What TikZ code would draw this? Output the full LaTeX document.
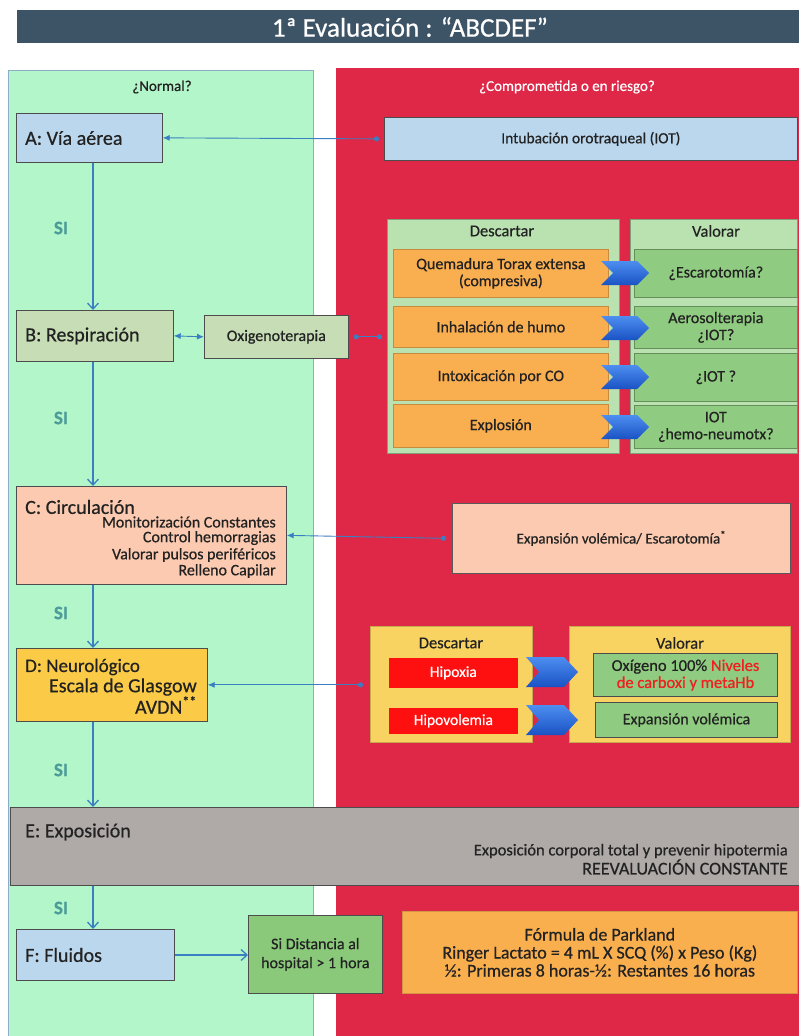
\documentclass[tikz,border=0pt]{standalone}
\usepackage{fontspec}
\setmainfont{Carlito}[FakeBold=0.6]
\usetikzlibrary{arrows.meta,shapes.geometric}
\definecolor{hdr}{HTML}{3D5366}
\definecolor{gpanel}{HTML}{B3F6C9}
\definecolor{gpanelb}{HTML}{8AAFC4}
\definecolor{rpanel}{HTML}{DF2848}
\definecolor{lblue}{HTML}{BBD7EE}
\definecolor{bgreen}{HTML}{C6DDB5}
\definecolor{dpanel}{HTML}{BAE2B1}
\definecolor{orng}{HTML}{F9AE50}
\definecolor{vgreen}{HTML}{8FCB80}
\definecolor{salmon}{HTML}{FBCAB0}
\definecolor{dyel}{HTML}{FBCB47}
\definecolor{ypanel}{HTML}{F9D362}
\definecolor{bred}{HTML}{FF1010}
\definecolor{egray}{HTML}{AFAAA8}
\definecolor{sigreen}{HTML}{8AC97A}
\definecolor{park}{HTML}{FAAF4F}
\definecolor{ablue}{HTML}{3A7FC2}
\definecolor{chevT}{HTML}{4D8EF0}
\definecolor{chevB}{HTML}{1A52C4}
\definecolor{sitxt}{HTML}{4E9C9A}
\definecolor{txtred}{HTML}{F02020}
\definecolor{ink}{HTML}{222222}
\newcommand\fsz[2]{\fontsize{#1}{#2}\selectfont}
\begin{document}
\begin{tikzpicture}[x=1pt,y=-1pt,
  bx/.style={draw=black!70, line width=0.7pt, inner sep=0pt, align=center, anchor=north west, text=ink, font=\fsz{16}{17}},
  pnl/.style={inner sep=0pt, anchor=north west},
  lbl/.style={inner sep=0pt, text=ink, font=\fsz{16.5}{18}},
  ttl/.style={inner sep=0pt, anchor=west, text=ink, font=\fsz{20}{22}},
  sub/.style={inner sep=0pt, anchor=east, text=ink, font=\fsz{16}{17}},
  si/.style={inner sep=0pt, font=\bfseries\fsz{19}{20}, text=sitxt},
  conn/.style={draw=ablue, line width=1.1pt},
  hconn/.style={draw=ablue, line width=0.9pt},
  vtip/.style={-{Straight Barb[length=6pt,width=11pt,line width=1.3pt]}},
  chev/.pic={\shade[top color=chevT, bottom color=chevB] (-24,-12) -- (12,-12) -- (24,0) -- (12,12) -- (-24,12) -- (-12,0) -- cycle;},
  chevd/.pic={\shade[top color=chevT, bottom color=chevB] (-26,-15) -- (12,-15) -- (26,0) -- (12,15) -- (-26,15) -- (-13,0) -- cycle;}
]
\useasboundingbox (0,0) rectangle (799,1036);
\fill[white] (0,0) rectangle (799,1036);
% header
\node[pnl, fill=hdr, minimum width=782pt, minimum height=33pt] (H) at (17,10) {};
\node[inner sep=0pt, text=white, font=\fsz{27}{29}] (Ht) at (410,27) {1ª Evaluación : “ABCDEF”};
% panels
\node[pnl, fill=gpanel, draw=gpanelb, line width=1pt, minimum width=305pt, minimum height=970pt] (GP) at (8,70) {};
\node[pnl, fill=rpanel, minimum width=463pt, minimum height=968pt] (RP) at (336,68) {};
\node[lbl, font=\fsz{15}{17}] (GPt) at (162,87) {¿Normal?};
\node[lbl, font=\fsz{15}{17}, text=white] (RPt) at (567,87) {¿Comprometida o en riesgo?};
% column coordinate
\coordinate (col) at (93,0);
% A
\node[bx, fill=lblue, minimum width=146pt, minimum height=49pt] (A) at (16,113) {};
\node[ttl] (At) at (25,138) {A: Vía aérea};
\node[bx, fill=lblue, minimum width=413pt, minimum height=43pt, font=\fsz{15.5}{17}] (IOT) at (384,117) {Intubación orotraqueal (IOT)};
\draw[hconn, {Latex[length=7pt,width=6pt]}-{Circle[length=5pt]}] (A.east) -- ([xshift=-5pt]IOT.west);
% B
\node[bx, fill=bgreen, minimum width=157pt, minimum height=51pt] (B) at (16,310) {};
\node[ttl] (Bt) at (25,336) {B: Respiración};
\node[bx, fill=bgreen, minimum width=144pt, minimum height=43pt] (Oxi) at (204,315) {Oxigenoterapia};
\draw[hconn, {Latex[length=7pt,width=6pt]}-{Latex[length=7pt,width=6pt]}] (B.east) -- (Oxi.west);
\draw[conn, vtip] (A.south -| col) -- (B.north -| col);
\node[si] (si1) at (61,228) {SI};
% Descartar / Valorar panel (B)
\node[pnl, fill=dpanel, draw=dpanel!70!black, line width=0.7pt, minimum width=232pt, minimum height=234pt] (Desc) at (387,219) {};
\node[pnl, fill=dpanel, draw=dpanel!70!black, line width=0.7pt, minimum width=167pt, minimum height=234pt] (Val) at (630,219) {};
\node[lbl] (Desct) at (502,231) {Descartar};
\node[lbl] (Valt) at (716,231) {Valorar};
\draw[hconn, {Circle[length=5pt]}-{Circle[length=5pt]}, shorten <=5pt, shorten >=5pt] (Oxi.east) -- (Desc.west |- Oxi.east);
\node[bx, fill=orng, draw=orng!80!black, minimum width=215pt, minimum height=48pt] (o1) at (393,249) {Quemadura Torax extensa\\(compresiva)};
\node[bx, fill=orng, draw=orng!80!black, minimum width=215pt, minimum height=41pt] (o2) at (393,306) {Inhalación de humo};
\node[bx, fill=orng, draw=orng!80!black, minimum width=215pt, minimum height=47pt] (o3) at (393,353) {Intoxicación por CO};
\node[bx, fill=orng, draw=orng!80!black, minimum width=215pt, minimum height=43pt] (o4) at (393,404) {Explosión};
\node[bx, fill=vgreen, draw=vgreen!70!black, minimum width=163pt, minimum height=48pt] (v1) at (634,249) {¿Escarotomía?};
\node[bx, fill=vgreen, draw=vgreen!70!black, minimum width=163pt, minimum height=42pt] (v2) at (634,306) {Aerosolterapia\\¿IOT?};
\node[bx, fill=vgreen, draw=vgreen!70!black, minimum width=163pt, minimum height=48pt] (v3) at (634,353) {¿IOT ?};
\node[bx, fill=vgreen, draw=vgreen!70!black, minimum width=163pt, minimum height=43pt] (v4) at (634,405) {IOT\\¿hemo-neumotx?};
\pic at (625,273) {chev};
\pic at (625,328) {chev};
\pic at (625,377) {chev};
\pic at (625,427) {chev};
% C
\node[bx, fill=salmon, minimum width=270pt, minimum height=98pt] (C) at (16,486) {};
\draw[conn, vtip] (B.south -| col) -- (C.north -| col);
\node[ttl] (Ct) at (25,507) {C: Circulación};
\node[sub] (C1) at (276,522) {Monitorización Constantes};
\node[sub] (C2) at (276,538) {Control hemorragias};
\node[sub] (C3) at (276,555) {Valorar pulsos periféricos};
\node[sub] (C4) at (276,571) {Relleno Capilar};
\node[si] (si2) at (61,418) {SI};
\node[bx, fill=salmon, draw=black!65, minimum width=338pt, minimum height=70pt, font=\fsz{15}{17}] (Exp) at (452,503) {Expansión volémica/ Escarotomía\textsuperscript{*}};
\draw[hconn, {Latex[length=7pt,width=6pt]}-{Circle[length=5pt]}] (C.east) -- ([xshift=-6pt]Exp.west);
% D
\node[bx, fill=dyel, minimum width=191pt, minimum height=73pt] (D) at (16,648) {};
\node[ttl, font=\fsz{19}{21}] (Dt) at (25,667) {D: Neurológico};
\node[sub, font=\fsz{20}{21}] (D1) at (197,687) {Escala de Glasgow};
\node[sub, font=\fsz{20}{21}] (D2) at (197,705) {AVDN\textsuperscript{**}};
\draw[conn, vtip] (C.south -| col) -- (D.north -| col);
\node[si] (si3) at (61,613) {SI};
\node[pnl, fill=ypanel, draw=ypanel!80!black, line width=0.6pt, minimum width=162pt, minimum height=116pt] (DescY) at (370,626) {};
\node[pnl, fill=ypanel, draw=ypanel!80!black, line width=0.6pt, minimum width=221pt, minimum height=116pt] (ValY) at (569,626) {};
\draw[hconn, {Latex[length=7pt,width=6pt]}-{Circle[length=5pt]}] (D.east) -- ([xshift=-7pt]DescY.west |- D.east);
\node[lbl] (DescYt) at (451,643) {Descartar};
\node[lbl] (ValYt) at (680,643) {Valorar};
\node[bx, fill=bred, draw=bred, text=white, minimum width=128pt, minimum height=29pt, font=\fsz{15.5}{17}] (hx) at (389,658) {Hipoxia};
\node[bx, fill=bred, draw=bred, text=white, minimum width=128pt, minimum height=25pt, font=\fsz{15.5}{17}] (hv) at (389,708) {Hipovolemia};
\node[bx, fill=vgreen, draw=black!70, line width=1pt, minimum width=184pt, minimum height=43pt, font=\fsz{16.5}{17}] (ox) at (593,653) {Oxígeno 100\% \textcolor{txtred}{Niveles}\\\textcolor{txtred}{de carboxi y metaHb}};
\node[bx, fill=vgreen, draw=black!70, line width=1pt, minimum width=182pt, minimum height=35pt, font=\fsz{16}{17}] (ev) at (595,702) {Expansión volémica};
\pic at (552,672) {chevd};
\pic at (552,720) {chevd};
% E
\node[bx, fill=egray, minimum width=789pt, minimum height=78pt] (E) at (10,807) {};
\node[ttl] (Et) at (25,832) {E: Exposición};
\node[sub, font=\fsz{16.5}{17}] (E1) at (788,851) {Exposición corporal total y prevenir hipotermia};
\node[sub, font=\fsz{18}{19}] (E2) at (788,867) {REEVALUACIÓN CONSTANTE};
\draw[conn, vtip] (D.south -| col) -- (E.north -| col);
\node[si] (si4) at (61,770) {SI};
% F
\node[bx, fill=lblue, minimum width=158pt, minimum height=51pt] (F) at (16,929) {};
\node[ttl] (Ft) at (25,955) {F: Fluidos};
\draw[conn, vtip] (E.south -| col) -- (F.north -| col);
\node[si] (si5) at (61,908) {SI};
\node[bx, fill=sigreen, minimum width=134pt, minimum height=78pt, font=\fsz{16}{19}] (Si) at (248,915) {Si Distancia al\\hospital > 1 hora};
\draw[conn, vtip] (F.east |- 0,955) -- (Si.west |- 0,955);
\node[bx, fill=park, draw=park!85!black, minimum width=395pt, minimum height=82pt, font=\fsz{18}{18}] (Pk) at (402,911) {{\fsz{18}{18}Fórmula de Parkland}\\Ringer Lactato = 4 mL X SCQ (\%) x Peso (Kg)\\½: Primeras 8 horas-½: Restantes 16 horas};
\end{tikzpicture}
\end{document}
